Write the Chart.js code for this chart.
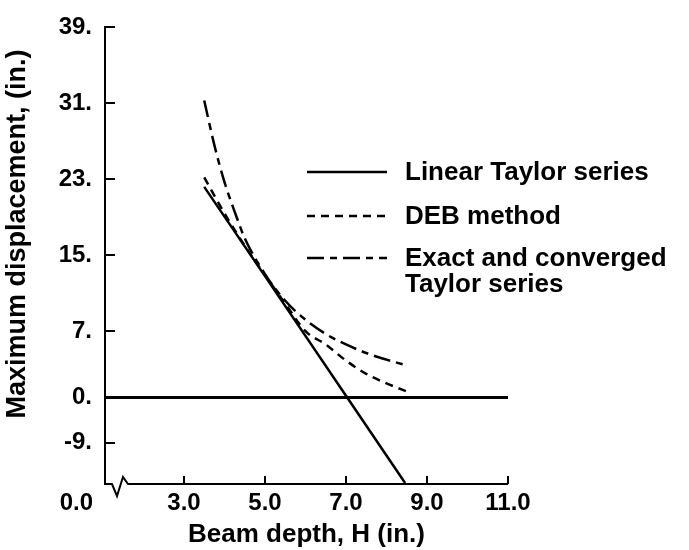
<!DOCTYPE html>
<html>
<head>
<meta charset="utf-8">
<script src="https://cdn.jsdelivr.net/npm/chart.js@4.4.1/dist/chart.umd.min.js"></script>
<style>
  html, body { margin: 0; padding: 0; background: #fff; }
  #wrap { width: 689px; height: 550px; }
</style>
</head>
<body>
<div id="wrap"><canvas id="c"></canvas></div>
<script>
// values: beam depth H (in.) vs max displacement (in.)
const linearH = [3.5, 5.0, 7.0, 8.46];
const linearD = [22.2, 12.8, 0.2, -9.0];

const debH = [3.5, 4.0, 4.5, 5.0, 5.5, 6.0, 6.5, 7.0, 7.5, 8.0, 8.53];
const debD = [23.2, 19.4, 16.0, 12.9, 9.9, 7.0, 5.6, 3.9, 2.5, 1.5, 0.6];

const exactH = [3.5, 3.75, 4.0, 4.25, 4.5, 5.0, 5.5, 6.0, 6.5, 7.0, 7.5, 8.0, 8.41];
const exactD = [31.3, 26.6, 22.7, 19.6, 16.8, 13.0, 10.2, 8.2, 6.7, 5.6, 4.7, 4.0, 3.5];

const zeroH = [1.05, 11.0];
const zeroD = [0, 0];

const seriesNames = ['Linear Taylor series', 'DEB method', 'Exact and converged\nTaylor series'];

const xTickVals = [3, 5, 7, 9, 11];
const xTickLabels = ['3.0', '5.0', '7.0', '9.0', '11.0'];
const yTickVals = [39, 31, 23, 15, 7, 0, -4.75];
const yTickLabels = ['39.', '31.', '23.', '15.', '7.', '0.', '-9.'];
const cornerLabel = '0.0';
const xTitle = 'Beam depth, H (in.)';
const yTitle = 'Maximum displacement, (in.)';

const FONT = '"Liberation Sans", Arial, Helvetica, sans-serif';

function pts(hs, ds) {
  return hs.map((h, i) => ({ x: h, y: ds[i] }));
}

// inward ticks, broken x axis, corner label, y title and the inset legend
const decor = {
  id: 'decor',
  afterDraw(chart) {
    const ctx = chart.ctx;
    const xs = chart.scales.x, ys = chart.scales.y;
    const left = xs.left, bottom = ys.bottom;
    ctx.save();
    ctx.strokeStyle = '#000';
    ctx.fillStyle = '#000';
    ctx.lineWidth = 2;
    ctx.setLineDash([]);

    // y ticks point right
    yTickVals.forEach(v => {
      const py = Math.round(ys.getPixelForValue(v));
      ctx.beginPath();
      ctx.moveTo(left, py);
      ctx.lineTo(left + 10, py);
      ctx.stroke();
    });

    // x axis with break near the origin
    ctx.beginPath();
    ctx.moveTo(left - 1, bottom);
    ctx.lineTo(left + 7, bottom);
    ctx.lineTo(left + 12, bottom + 12);
    ctx.lineTo(left + 18, bottom - 7);
    ctx.lineTo(left + 23, bottom);
    ctx.lineTo(xs.right, bottom);
    ctx.stroke();
    xTickVals.forEach(v => {
      const px = Math.round(xs.getPixelForValue(v));
      ctx.beginPath();
      ctx.moveTo(px, bottom);
      ctx.lineTo(px, bottom - 8);
      ctx.stroke();
    });

    ctx.font = 'bold 24px ' + FONT;
    ctx.textAlign = 'right';
    ctx.textBaseline = 'middle';
    ctx.fillText(cornerLabel, left - 12, bottom + 19);

    // y title
    ctx.save();
    ctx.translate(18, 234);
    ctx.rotate(-Math.PI / 2);
    ctx.font = 'bold 27px ' + FONT;
    ctx.textAlign = 'center';
    ctx.fillText(yTitle, 0, 0);
    ctx.restore();

    // legend
    const rows = [172, 216, 258];
    ctx.font = 'bold 26px ' + FONT;
    ctx.textAlign = 'left';
    chart.data.datasets.slice(0, 3).forEach((ds, i) => {
      ctx.beginPath();
      ctx.setLineDash(ds.borderDash || []);
      ctx.lineWidth = ds.borderWidth;
      ctx.moveTo(307, rows[i]);
      ctx.lineTo(387, rows[i]);
      ctx.stroke();
      ctx.setLineDash([]);
      seriesNames[i].split('\n').forEach((t, k) => {
        ctx.fillText(t, 405, rows[i] + 1 + k * 26);
      });
    });
    ctx.restore();
  }
};

new Chart(document.getElementById('c'), {
  type: 'scatter',
  data: {
    datasets: [
      { label: seriesNames[0], data: pts(linearH, linearD), borderColor: '#000', borderWidth: 2.5,
        showLine: true, pointRadius: 0, tension: 0 },
      { label: seriesNames[1], data: pts(debH, debD), borderColor: '#000', borderWidth: 2.5,
        borderDash: [8, 6], showLine: true, pointRadius: 0, cubicInterpolationMode: 'monotone' },
      { label: seriesNames[2], data: pts(exactH, exactD), borderColor: '#000', borderWidth: 2.5,
        borderDash: [17, 6, 7, 6], showLine: true, pointRadius: 0, cubicInterpolationMode: 'monotone' },
      { label: 'zero', data: pts(zeroH, zeroD), borderColor: '#000', borderWidth: 3,
        showLine: true, pointRadius: 0 }
    ]
  },
  options: {
    responsive: true,
    maintainAspectRatio: false,
    animation: false,
    layout: { padding: { top: 18, right: 181, bottom: 0, left: 0 } },
    plugins: { legend: { display: false }, tooltip: { enabled: false } },
    scales: {
      x: {
        type: 'linear',
        min: 1.05,
        max: 11.0,
        afterBuildTicks: s => { s.ticks = xTickVals.map(v => ({ value: v })); },
        afterFit: s => { s.height = 66; },
        ticks: {
          callback: (v, i) => xTickLabels[i],
          font: { family: FONT, size: 24, weight: 'bold' },
          color: '#000',
          padding: 5,
          maxRotation: 0,
          autoSkip: false
        },
        grid: { display: false, drawTicks: false },
        border: { display: false },
        title: {
          display: true,
          text: xTitle,
          font: { family: FONT, size: 26, weight: 'bold' },
          color: '#000',
          padding: 0
        }
      },
      y: {
        type: 'linear',
        min: -9.1,
        max: 39,
        afterBuildTicks: s => { s.ticks = yTickVals.map(v => ({ value: v })); },
        afterFit: s => { s.width = 105; },
        ticks: {
          callback: (v, i) => yTickLabels[i],
          font: { family: FONT, size: 24, weight: 'bold' },
          color: '#000',
          padding: 13,
          autoSkip: false
        },
        grid: { display: false, drawTicks: false },
        border: { display: true, color: '#000', width: 2 }
      }
    }
  },
  plugins: [decor]
});
</script>
</body>
</html>
